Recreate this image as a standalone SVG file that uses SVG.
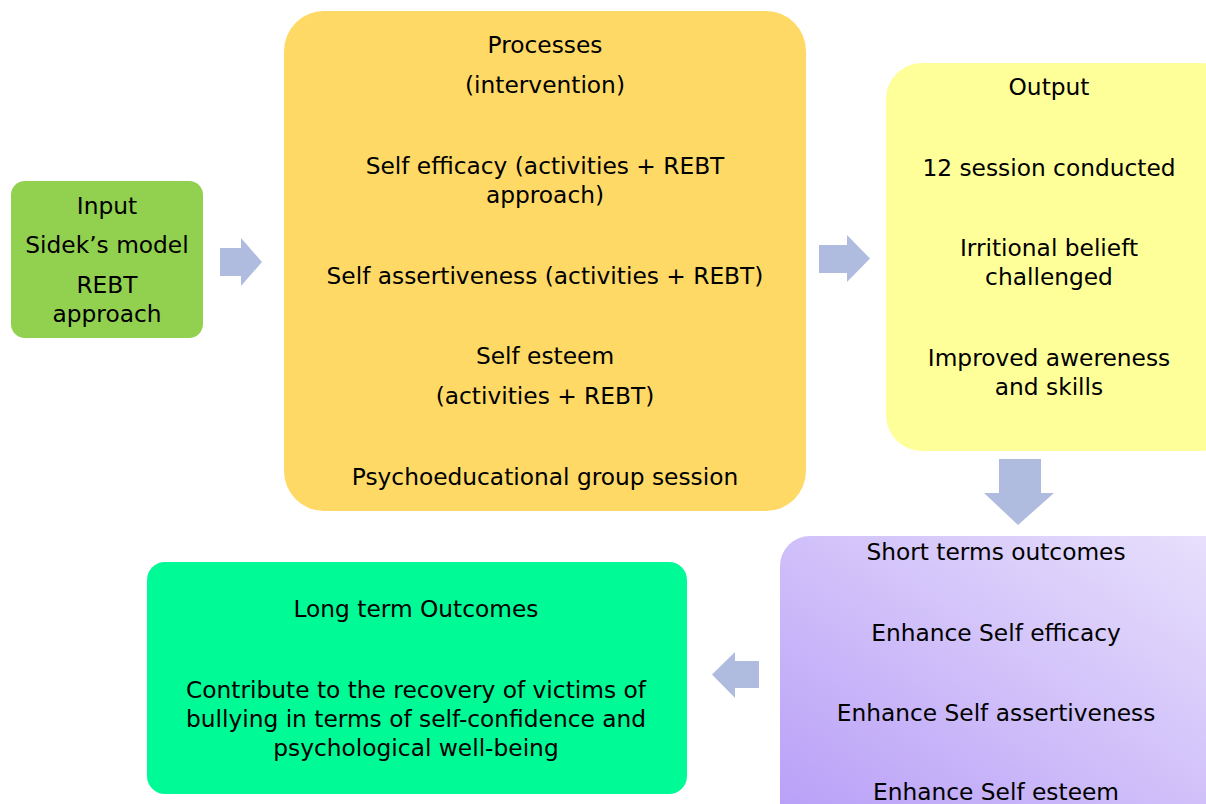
<svg xmlns="http://www.w3.org/2000/svg" width="1206" height="804" viewBox="0 0 1206 804">
  <style>
    text { font-family: "DejaVu Sans", sans-serif; font-size: 23.3px; fill: #000; text-anchor: middle; }
    .flow { fill: #B0BCDF; }
  </style>
  <defs>
    <linearGradient id="shortGrad" x1="0" y1="1" x2="1" y2="0">
      <stop offset="0" stop-color="#B79DF7"/>
      <stop offset="1" stop-color="#E9E2FC"/>
    </linearGradient>
  </defs>
  <rect width="1206" height="804" fill="#fff"/>

  <g id="input">
    <rect x="11" y="181" width="192" height="157" rx="14" fill="#92D050"/>
    <text x="107" y="214">Input</text>
    <text x="107" y="253">Sidek’s model</text>
    <text x="107" y="293">REBT</text>
    <text x="107" y="322">approach</text>
  </g>

  <g id="processes">
    <rect x="284" y="11" width="522" height="500" rx="40" fill="#FFD966"/>
    <text x="545" y="53">Processes</text>
    <text x="545" y="93">(intervention)</text>
    <text x="545" y="174">Self efficacy (activities + REBT</text>
    <text x="545" y="203">approach)</text>
    <text x="545" y="284">Self assertiveness (activities + REBT)</text>
    <text x="545" y="364">Self esteem</text>
    <text x="545" y="404">(activities + REBT)</text>
    <text x="545" y="485">Psychoeducational group session</text>
  </g>

  <g id="output">
    <rect x="886" y="63" width="350" height="388" rx="36" fill="#FFFF99"/>
    <text x="1049" y="95">Output</text>
    <text x="1049" y="176">12 session conducted</text>
    <text x="1049" y="256">Irritional belieft</text>
    <text x="1049" y="285">challenged</text>
    <text x="1049" y="366">Improved awereness</text>
    <text x="1049" y="395">and skills</text>
  </g>

  <g id="short-term">
    <rect x="780" y="536" width="460" height="300" rx="30" fill="url(#shortGrad)"/>
    <text x="996" y="560">Short terms outcomes</text>
    <text x="996" y="641">Enhance Self efficacy</text>
    <text x="996" y="721">Enhance Self assertiveness</text>
    <text x="996" y="800">Enhance Self esteem</text>
  </g>

  <g id="long-term">
    <rect x="147" y="562" width="540" height="232" rx="18" fill="#00FA96"/>
    <text x="416" y="617">Long term Outcomes</text>
    <text x="416" y="698">Contribute to the recovery of victims of</text>
    <text x="416" y="727">bullying in terms of self-confidence and</text>
    <text x="416" y="756">psychological well-being</text>
  </g>

  <g id="connectors">
    <polygon class="flow" points="220,248 241,248 241,238 262,262 241,286 241,276 220,276"/>
    <polygon class="flow" points="819,245 847,245 847,235 870,258.5 847,282 847,273 819,273"/>
    <polygon class="flow" points="999,459 1041,459 1041,493 1054,493 1018,525 984,493 999,493"/>
    <polygon class="flow" points="759,661 735,661 735,652 712,674.5 735,698 735,688 759,688"/>
  </g>
</svg>
